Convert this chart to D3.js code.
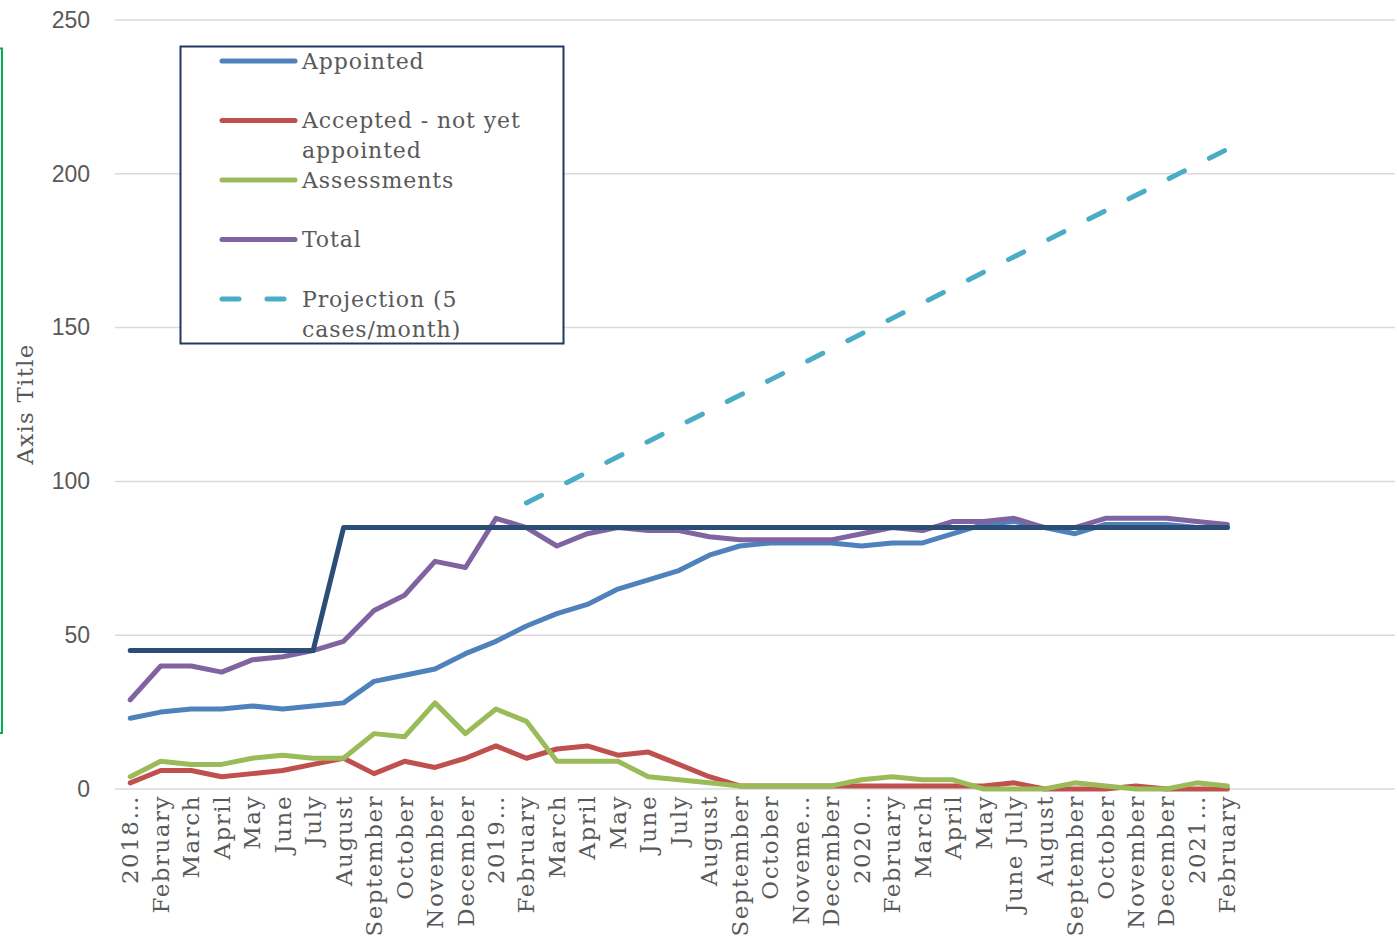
<!DOCTYPE html>
<html>
<head>
<meta charset="utf-8">
<script src="https://cdn.jsdelivr.net/npm/d3@7"></script>
<style>
  body { margin: 0; background: #fff; }
</style>
</head>
<body>
<svg id="chart"></svg>
<script>
// month labels as shown on the axis (last slots are empty)
var xLabels = ["2018\u2026", "February", "March", "April", "May", "June", "July", "August", "September", "October", "November", "December",
               "2019\u2026", "February", "March", "April", "May", "June", "July", "August", "September", "October", "Noveme\u2026", "December",
               "2020\u2026", "February", "March", "April", "May", "June July", "August", "September", "October", "November", "December",
               "2021\u2026", "February", "", "", "", "", ""];

var appointed   = [23, 25, 26, 26, 27, 26, 27, 28, 35, 37, 39, 44, 48, 53, 57, 60, 65, 68, 71, 76, 79, 80, 80, 80, 79, 80, 80, 83, 86, 87, 85, 83, 86, 86, 86, 85, 85];
var accepted    = [2, 6, 6, 4, 5, 6, 8, 10, 5, 9, 7, 10, 14, 10, 13, 14, 11, 12, 8, 4, 1, 1, 1, 1, 1, 1, 1, 1, 1, 2, 0, 0, 0, 1, 0, 0, 0];
var assessments = [4, 9, 8, 8, 10, 11, 10, 10, 18, 17, 28, 18, 26, 22, 9, 9, 9, 4, 3, 2, 1, 1, 1, 1, 3, 4, 3, 3, 0, 0, 0, 2, 1, 0, 0, 2, 1];
var total       = [29, 40, 40, 38, 42, 43, 45, 48, 58, 63, 74, 72, 88, 85, 79, 83, 85, 84, 84, 82, 81, 81, 81, 81, 83, 85, 84, 87, 87, 88, 85, 85, 88, 88, 88, 87, 86];
var capacity    = [45, 45, 45, 45, 45, 45, 45, 85, 85, 85, 85, 85, 85, 85, 85, 85, 85, 85, 85, 85, 85, 85, 85, 85, 85, 85, 85, 85, 85, 85, 85, 85, 85, 85, 85, 85, 85];
var projection  = [null, null, null, null, null, null, null, null, null, null, null, null, null,
                   93, 98, 103, 108, 113, 118, 123, 128, 133, 138, 143, 148, 153, 158, 163, 168, 173, 178, 183, 188, 193, 198, 203, 208];
var yTicks = [0, 50, 100, 150, 200, 250];

// Set up the SVG container
var width = 1397;
var height = 941;
var plot = { left: 115, right: 1395, top: 20, bottom: 789 };

var svg = d3.select("#chart")
    .attr("width", width)
    .attr("height", height);

// Set up scales
var xScale = d3.scaleBand()
    .domain(d3.range(xLabels.length))
    .range([plot.left, plot.right]);

var yScale = d3.scaleLinear()
    .domain([0, 250])
    .range([plot.bottom, plot.top]);

function cx(i) { return xScale(i) + xScale.bandwidth() / 2; }

// green bracket on the far left
svg.append("path")
    .attr("d", "M0,48.5 H2 V733 H0")
    .attr("fill", "none")
    .attr("stroke", "#00b050")
    .attr("stroke-width", 2);

// gridlines
svg.append("g")
    .selectAll("line")
    .data(yTicks)
    .enter().append("line")
    .attr("x1", plot.left)
    .attr("x2", plot.right)
    .attr("y1", function(d) { return yScale(d); })
    .attr("y2", function(d) { return yScale(d); })
    .attr("stroke", "#d9d9d9")
    .attr("stroke-width", 1.5);

// Add y axis
var yAxis = svg.append("g")
    .attr("transform", "translate(" + plot.left + ",0)")
    .call(d3.axisLeft(yScale)
        .tickValues(yTicks)
        .tickSize(0)
        .tickPadding(25)
        .tickFormat(d3.format(".0f")));
yAxis.select(".domain").remove();
yAxis.selectAll("text")
    .attr("fill", "#595959")
    .style("font-family", "'Liberation Sans', Arial, sans-serif")
    .style("font-size", "23px");

// Add y axis label
svg.append("text")
    .attr("transform", "rotate(-90)")
    .attr("x", -404)
    .attr("y", 25)
    .attr("dy", "0.35em")
    .style("text-anchor", "middle")
    .style("font-family", "'DejaVu Serif', serif")
    .style("font-size", "23px")
    .style("letter-spacing", "1.2px")
    .attr("fill", "#595959")
    .text("Axis Title");

// Add x axis
var xAxis = svg.append("g")
    .attr("transform", "translate(0," + plot.bottom + ")")
    .call(d3.axisBottom(xScale)
        .tickSize(0)
        .tickFormat(function(i) { return xLabels[i]; }));
xAxis.select(".domain").remove();
xAxis.selectAll("text")
    .attr("transform", "rotate(-90)")
    .attr("x", -6)
    .attr("y", 0)
    .attr("dy", "0.35em")
    .style("text-anchor", "end")
    .style("font-family", "'DejaVu Serif', serif")
    .style("font-size", "23px")
    .style("letter-spacing", "1.5px")
    .attr("fill", "#595959");

// Define the line
var line = d3.line()
    .defined(function(d) { return d != null; })
    .x(function(d, i) { return cx(i); })
    .y(function(d) { return yScale(d); });

var series = [
    { name: "Appointed", values: appointed, color: "#4f81bd" },
    { name: "Accepted - not yet appointed", values: accepted, color: "#c0504d" },
    { name: "Assessments", values: assessments, color: "#9bbb59" },
    { name: "Total", values: total, color: "#8064a2" },
    { name: "Projection (5 cases/month)", values: projection, color: "#4bacc6", dash: "17,28" },
    { name: "Capacity", values: capacity, color: "#2c4d75" }
];

series.forEach(function(s) {
    svg.append("path")
        .datum(s.values)
        .attr("d", line)
        .attr("fill", "none")
        .attr("stroke", s.color)
        .attr("stroke-width", 5)
        .attr("stroke-linecap", "round")
        .attr("stroke-linejoin", "round")
        .attr("stroke-dasharray", s.dash || null);
});

// Legend
var legendItems = [
    { lines: ["Appointed"], color: "#4f81bd", y: 61 },
    { lines: ["Accepted - not yet", "appointed"], color: "#c0504d", y: 120.5 },
    { lines: ["Assessments"], color: "#9bbb59", y: 180 },
    { lines: ["Total"], color: "#8064a2", y: 239.5 },
    { lines: ["Projection (5", "cases/month)"], color: "#4bacc6", y: 299, dash: "17,28" }
];

var legend = svg.append("g");
legend.append("rect")
    .attr("x", 180.5)
    .attr("y", 46.5)
    .attr("width", 383)
    .attr("height", 297)
    .attr("fill", "#fff")
    .attr("stroke", "#1f3864")
    .attr("stroke-width", 2);

legendItems.forEach(function(d) {
    legend.append("line")
        .attr("x1", 222)
        .attr("x2", 295)
        .attr("y1", d.y)
        .attr("y2", d.y)
        .attr("stroke", d.color)
        .attr("stroke-width", 5)
        .attr("stroke-linecap", "round")
        .attr("stroke-dasharray", d.dash || null);
    var t = legend.append("text")
        .attr("x", 302)
        .attr("y", d.y)
        .style("font-family", "'DejaVu Serif', serif")
        .style("font-size", "22px")
        .style("letter-spacing", "0.9px")
        .attr("fill", "#595959");
    d.lines.forEach(function(l, k) {
        t.append("tspan")
            .attr("x", 302)
            .attr("dy", k === 0 ? "0.35em" : "30px")
            .text(l);
    });
});
</script>
</body>
</html>
